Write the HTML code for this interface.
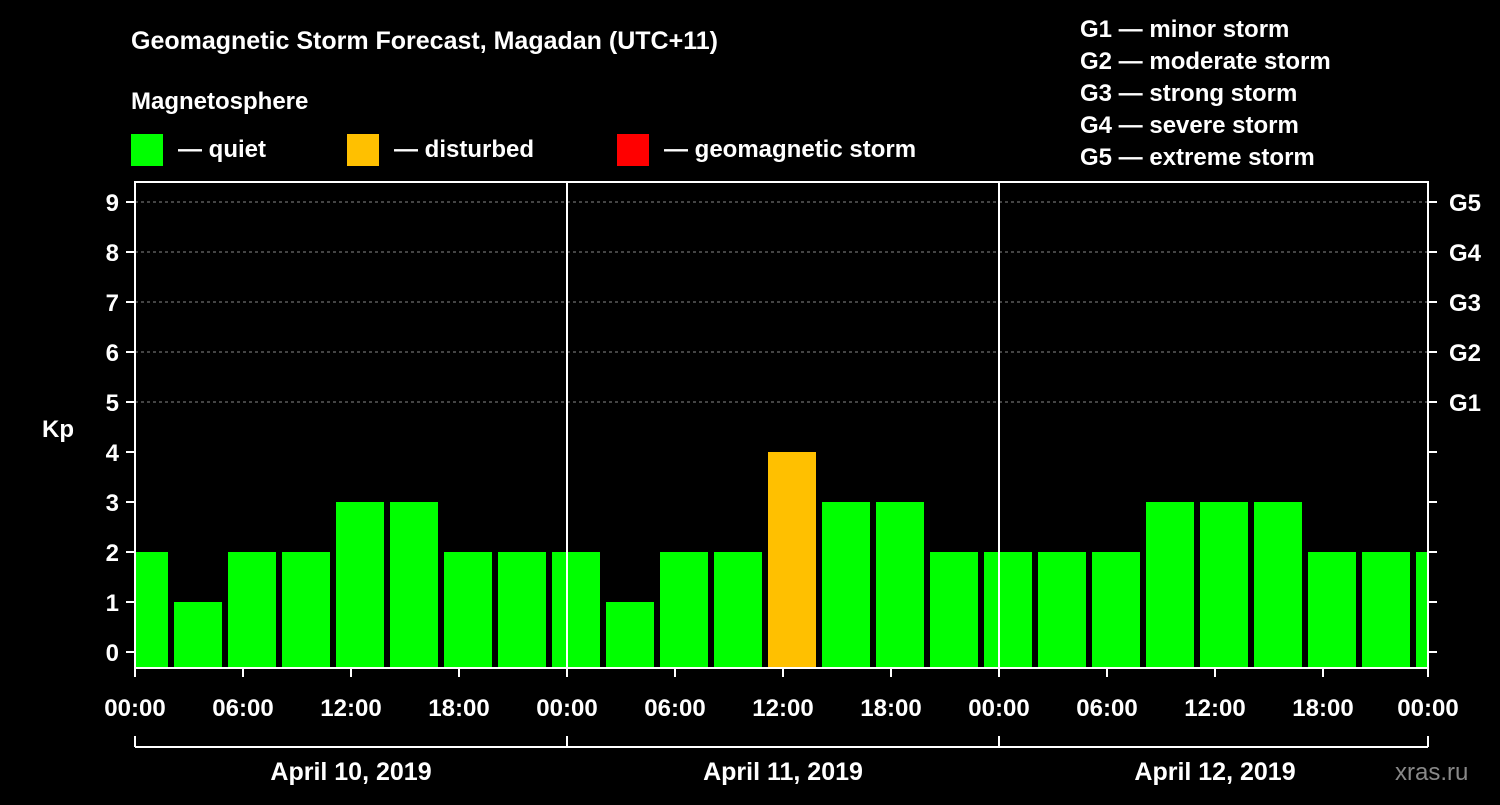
<!DOCTYPE html>
<html><head><meta charset="utf-8"><style>
body{margin:0;background:#000;width:1500px;height:800px;overflow:hidden}
svg text{font-family:"Liberation Sans",Arial,sans-serif;font-weight:bold;fill:#fff}
</style></head><body>
<svg id="c" width="1500" height="800">
<text x="131" y="49" font-size="25">Geomagnetic Storm Forecast, Magadan (UTC+11)</text>
<text x="131" y="109" font-size="24">Magnetosphere</text>
<g>
<rect x="131" y="134" width="32" height="32" fill="#00ff00"/>
<text x="178" y="157" font-size="24">— quiet</text>
<rect x="347" y="134" width="32" height="32" fill="#ffc000"/>
<text x="394" y="157" font-size="24">— disturbed</text>
<rect x="617" y="134" width="32" height="32" fill="#ff0000"/>
<text x="664" y="157" font-size="24">— geomagnetic storm</text>
</g>
<g font-size="24">
<text x="1080" y="37">G1 — minor storm</text>
<text x="1080" y="69">G2 — moderate storm</text>
<text x="1080" y="101">G3 — strong storm</text>
<text x="1080" y="133">G4 — severe storm</text>
<text x="1080" y="165">G5 — extreme storm</text>
</g>
<text x="42" y="437" font-size="24">Kp</text>
<text x="1395" y="780" font-size="24" style="fill:#888;font-weight:normal">xras.ru</text>
<defs><clipPath id="pc"><rect x="135" y="182" width="1293" height="486"/></clipPath></defs>
<g id="grid"></g><g id="bars" clip-path="url(#pc)"></g><g id="axes"></g>
</svg>
<script>
const values=[2,1,2,2,3,3,2,2,2,1,2,2,4,3,3,2,2,2,2,3,3,3,2,2,2];
const yTicks=[0,1,2,3,4,5,6,7,8,9];
const gLabels=["G1","G2","G3","G4","G5"];
const xLabels=["00:00","06:00","12:00","18:00","00:00","06:00","12:00","18:00","00:00","06:00","12:00","18:00","00:00"];
const days=["April 10, 2019","April 11, 2019","April 12, 2019"];
const NS="http://www.w3.org/2000/svg";
const L=135,R=1428,T=182,B=668;
const y=v=>652-v*50;
const hx=h=>L+h*18; // hours since start
function mk(t,a,p){const e=document.createElementNS(NS,t);for(const k in a)e.setAttribute(k,a[k]);if(p)p.appendChild(e);return e;}
const grid=document.getElementById('grid'),bars=document.getElementById('bars'),ax=document.getElementById('axes');
yTicks.forEach(v=>{if(v>=5){const g=mk('line',{x1:L,x2:R,y1:y(v),y2:y(v),stroke:'#888','stroke-dasharray':'3,3'},grid);
}});
values.forEach((v,i)=>{const x0=hx(i*3-5/6);
const r=mk('rect',{x:x0,y:y(v),width:48,height:B-y(v),fill:v>=5?'#ff0000':v>=4?'#ffc000':'#00ff00'},bars);
});
const f=mk('rect',{x:L,y:T,width:R-L,height:B-T,fill:'none',stroke:'#fff','stroke-width':2},ax);

[24,48].forEach(h=>{const l=mk('line',{x1:hx(h),x2:hx(h),y1:T,y2:B,stroke:'#fff','stroke-width':2},ax);
});
yTicks.forEach(v=>{mk('line',{x1:L-9,x2:L,y1:y(v),y2:y(v),stroke:'#fff','stroke-width':2},ax);
mk('line',{x1:R,x2:R+9,y1:y(v),y2:y(v),stroke:'#fff','stroke-width':2},ax);
const t=mk('text',{x:L-16,y:y(v)+9,'font-size':24,'text-anchor':'end'},ax);t.textContent=v;

if(v>=5){const g=mk('text',{x:R+21,y:y(v)+9,'font-size':24},ax);g.textContent=gLabels[v-5];
}});
xLabels.forEach((s,i)=>{const x=Math.min(hx(i*6),R);
mk('line',{x1:x,x2:x,y1:B,y2:B+9,stroke:'#fff','stroke-width':2},ax);
const t=mk('text',{x:x,y:716,'font-size':24,'text-anchor':'middle'},ax);t.textContent=s;
});
mk('line',{x1:L,x2:R,y1:747,y2:747,stroke:'#fff','stroke-width':2},ax);
[0,24,48,72].forEach(h=>mk('line',{x1:Math.min(hx(h),R),x2:Math.min(hx(h),R),y1:736,y2:747,stroke:'#fff','stroke-width':2},ax));
days.forEach((d,i)=>{const t=mk('text',{x:hx(i*24+12),y:780,'font-size':25,'text-anchor':'middle'},ax);t.textContent=d;
});
</script>
</body></html>
